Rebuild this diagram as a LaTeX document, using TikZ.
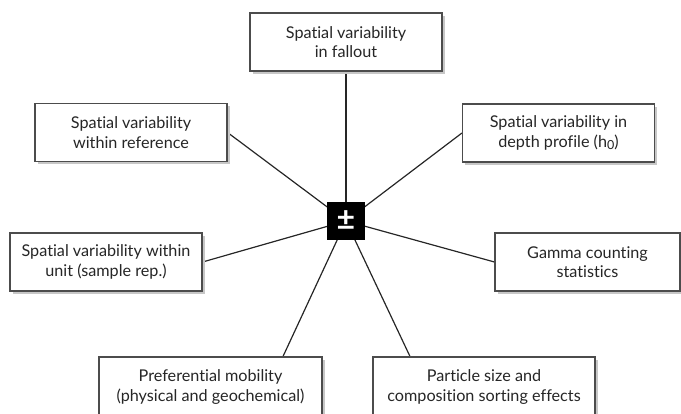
\documentclass[tikz,border=0pt]{standalone}
\usepackage{fontspec}
\setmainfont{Lato}[Ligatures={NoCommon,NoContextual}]
\usetikzlibrary{shadows}
\pgfdeclarelayer{bg}
\pgfsetlayers{bg,main}
\begin{document}
\begin{tikzpicture}[x=1pt,y=-1pt,
  box/.style={draw=black!70, line width=1.1pt, fill=white, minimum width=192pt, minimum height=58pt,
    align=center, inner sep=0pt, text=black!85, font=\fontsize{16.2}{19.5}\selectfont,
    drop shadow={shadow xshift=2.5pt, shadow yshift=-2.5pt, fill=black!22, opacity=1}},
  link/.style={draw=black!85, line width=1.2pt},
  hub/.style={fill=black, minimum size=38pt, inner sep=0pt, text=white, font=\fontsize{32}{32}\selectfont\bfseries}]
\useasboundingbox (0,0) rectangle (681,413);
\node[box] (top) at (346,42) {Spatial variability\\in fallout};
\node[box] (ref) at (131,132.5) {Spatial variability\\within reference};
\node[box] (dep) at (558.5,133) {Spatial variability in\\depth profile (h\raisebox{-0.25ex}{\fontsize{12.5}{12.5}\selectfont 0})};
\node[box] (smp) at (106,262) {Spatial variability within\\unit (sample rep.)};
\node[box, minimum width=185pt] (gam) at (587.5,262) {Gamma counting\\statistics};
\node[box, minimum width=223pt, minimum height=60pt] (pm) at (210.5,387) {Preferential mobility\\(physical and geochemical)};
\node[box, minimum width=222pt, minimum height=60pt] (ps) at (484,387) {Particle size and\\composition sorting effects};
\node[hub] (c) at (346,221) {±};
\begin{pgfonlayer}{bg}
\draw[link] (c.center) -- (top.south);
\draw[link] (c.center) -- (ref.east);
\draw[link] (c.center) -- (dep.west);
\draw[link] (c.center) -- (smp.east);
\draw[link] (c.center) -- (gam.west);
\draw[link] (c.center) -- ([xshift=72.5pt]pm.north);
\draw[link] (c.center) -- ([xshift=-74pt]ps.north);
\end{pgfonlayer}
\end{tikzpicture}
\end{document}
